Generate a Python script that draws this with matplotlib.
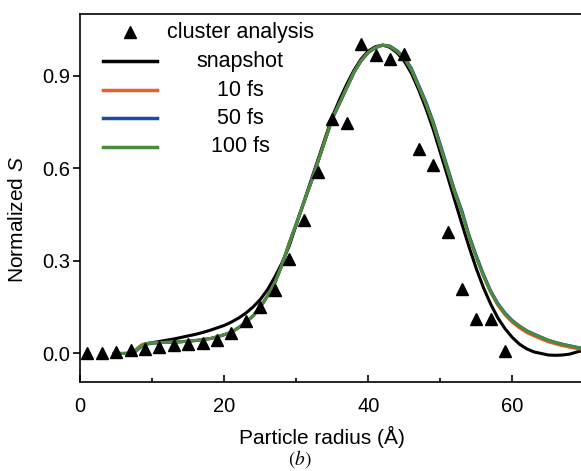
import matplotlib
matplotlib.use("Agg")
import matplotlib.pyplot as plt

plt.rcParams['font.family'] = ['Liberation Sans', 'DejaVu Sans']
plt.rcParams['mathtext.fontset'] = 'custom'
plt.rcParams['mathtext.it'] = 'Liberation Sans:italic'
plt.rcParams['mathtext.rm'] = 'Liberation Sans'

# cluster analysis (triangles)
x_cluster = [1, 3, 5, 7, 9, 11, 13, 15, 17, 19, 21, 23, 25, 27, 29,
             31, 33, 35, 37, 39, 41, 43, 45, 47, 49, 51, 53, 55, 57, 59]
y_cluster = [0.002, 0.002, 0.005, 0.01, 0.016, 0.022, 0.027, 0.031, 0.034, 0.045,
             0.066, 0.104, 0.15, 0.207, 0.305, 0.432, 0.588, 0.76, 0.747, 1.003,
             0.968, 0.956, 0.972, 0.664, 0.61, 0.395, 0.21, 0.113, 0.113, 0.008]

# simulated curves, common radius grid
x_sim = [4.5, 6, 7, 7.5, 8, 8.5, 9, 10, 11, 12, 13, 14, 15, 16, 17, 18, 19, 20,
         21, 22, 23, 24, 25, 26, 27, 28, 29, 30, 31, 32, 33, 34, 35, 36, 37, 38,
         39, 40, 41, 42, 43, 44, 45, 46, 47, 48, 49, 50, 51, 52, 53, 54, 55, 56,
         57, 58, 59, 60, 61, 62, 63, 64, 65, 66, 67, 68, 69, 70]

y_snapshot = [0, 0, 0, 0.004, 0.015, 0.025, 0.031, 0.035, 0.039, 0.043, 0.047, 0.052,
              0.057, 0.062, 0.068, 0.075, 0.083, 0.091, 0.102, 0.115, 0.131, 0.151,
              0.175, 0.207, 0.247, 0.293, 0.348, 0.418, 0.488, 0.558, 0.628, 0.698,
              0.768, 0.823, 0.873, 0.918, 0.955, 0.981, 0.995, 1.0, 0.993, 0.975,
              0.948, 0.908, 0.855, 0.795, 0.728, 0.652, 0.575, 0.497, 0.42, 0.345,
              0.275, 0.213, 0.16, 0.115, 0.08, 0.052, 0.03, 0.015, 0.005, 0.0,
              -0.005, -0.006, -0.005, -0.002, 0.005, 0.011]

y_10fs = [0, 0, 0.002, 0.008, 0.019, 0.028, 0.032, 0.034, 0.035, 0.036, 0.037, 0.038,
          0.04, 0.042, 0.045, 0.048, 0.054, 0.061, 0.069, 0.084, 0.101, 0.122,
          0.151, 0.186, 0.228, 0.287, 0.357, 0.422, 0.487, 0.552, 0.622, 0.692,
          0.762, 0.812, 0.862, 0.912, 0.95, 0.977, 0.992, 1.0, 0.996, 0.98,
          0.958, 0.92, 0.866, 0.811, 0.747, 0.673, 0.598, 0.523, 0.458, 0.378,
          0.312, 0.251, 0.198, 0.156, 0.125, 0.101, 0.083, 0.068, 0.057, 0.047,
          0.038, 0.031, 0.025, 0.02, 0.016, 0.012]

y_50fs = [0, 0, 0, 0.003, 0.013, 0.022, 0.029, 0.033, 0.035, 0.036, 0.037, 0.038,
          0.04, 0.042, 0.045, 0.048, 0.054, 0.061, 0.069, 0.084, 0.101, 0.122,
          0.151, 0.186, 0.228, 0.286, 0.356, 0.421, 0.486, 0.551, 0.621, 0.691,
          0.761, 0.811, 0.861, 0.911, 0.949, 0.976, 0.992, 1.0, 0.997, 0.982,
          0.961, 0.924, 0.87, 0.816, 0.752, 0.678, 0.603, 0.528, 0.463, 0.383,
          0.317, 0.256, 0.203, 0.162, 0.131, 0.107, 0.089, 0.074, 0.063, 0.053,
          0.043, 0.036, 0.03, 0.025, 0.02, 0.016]

y_100fs = [0, 0, 0, 0.004, 0.015, 0.025, 0.031, 0.034, 0.035, 0.036, 0.037, 0.038,
           0.04, 0.042, 0.045, 0.048, 0.054, 0.061, 0.069, 0.084, 0.101, 0.122,
           0.151, 0.186, 0.228, 0.286, 0.356, 0.421, 0.486, 0.551, 0.621, 0.691,
           0.761, 0.811, 0.861, 0.911, 0.949, 0.976, 0.992, 1.0, 0.996, 0.98,
           0.958, 0.92, 0.866, 0.811, 0.746, 0.672, 0.597, 0.522, 0.457, 0.377,
           0.311, 0.251, 0.199, 0.159, 0.128, 0.105, 0.088, 0.073, 0.062, 0.052,
           0.042, 0.035, 0.029, 0.024, 0.019, 0.015]

series = [
    ("snapshot", y_snapshot, "black"),
    ("10 fs", y_10fs, "#f15a2b"),
    ("50 fs", y_50fs, "#1b4f9e"),
    ("100 fs", y_100fs, "#4b8b3b"),
]

fig = plt.figure(figsize=(5.81, 4.71), dpi=100)
ax = fig.add_axes([0.1382, 0.189, 0.8675, 0.7813])

for name, ys, col in series:
    ax.plot(x_sim, ys, color=col, lw=2.2, solid_capstyle='butt')
ax.plot(x_cluster, y_cluster, ls='none', marker='^', ms=9, color='black')

ax.set_xlim(0, 70)
ax.set_ylim(-0.0925, 1.101)
ax.set_xticks([0, 20, 40, 60])
ax.set_xticks([10, 30, 50], minor=True)
ax.set_yticks([0.0, 0.3, 0.6, 0.9])
ax.set_yticklabels(["0.0", "0.3", "0.6", "0.9"])
ax.tick_params(axis='x', which='major', direction='in', length=5, width=1.2,
               pad=10.5, labelsize=14.5)
ax.tick_params(axis='x', which='minor', direction='in', length=3, width=1.2)
ax.tick_params(axis='y', direction='out', length=5, width=1.2, pad=2, labelsize=14.5)
ax.spines['right'].set_visible(False)
for s in ['left', 'top', 'bottom']:
    ax.spines[s].set_linewidth(1.2)

# legend drawn by hand so that the labels are centred like the original
rows = [0.951, 0.872, 0.793, 0.717, 0.639]
ax.plot([0.098], [rows[0]], marker='^', ms=9, color='black',
        transform=ax.transAxes, clip_on=False)
ax.text(0.317, rows[0], "cluster analysis", transform=ax.transAxes,
        ha='center', va='center', fontsize=15.5)
for (name, ys, col), yr in zip(series, rows[1:]):
    ax.plot([0.045, 0.152], [yr, yr], color=col, lw=2.5,
            transform=ax.transAxes, clip_on=False)
    ax.text(0.317, yr, name, transform=ax.transAxes,
            ha='center', va='center', fontsize=15.5)

fig.text(18 / 581, 1 - 219 / 471, "Normalized $S$", rotation=90,
         ha='center', va='center', fontsize=15)
fig.text(0.5537, 0.0573, "Particle radius (Å)", ha='center', va='baseline',
         fontsize=15)
fig.text(0.516, 0.014, r"$(b)$", ha='center', va='baseline', fontsize=14,
         math_fontfamily='stix')

fig.savefig("out.png", dpi=100)
